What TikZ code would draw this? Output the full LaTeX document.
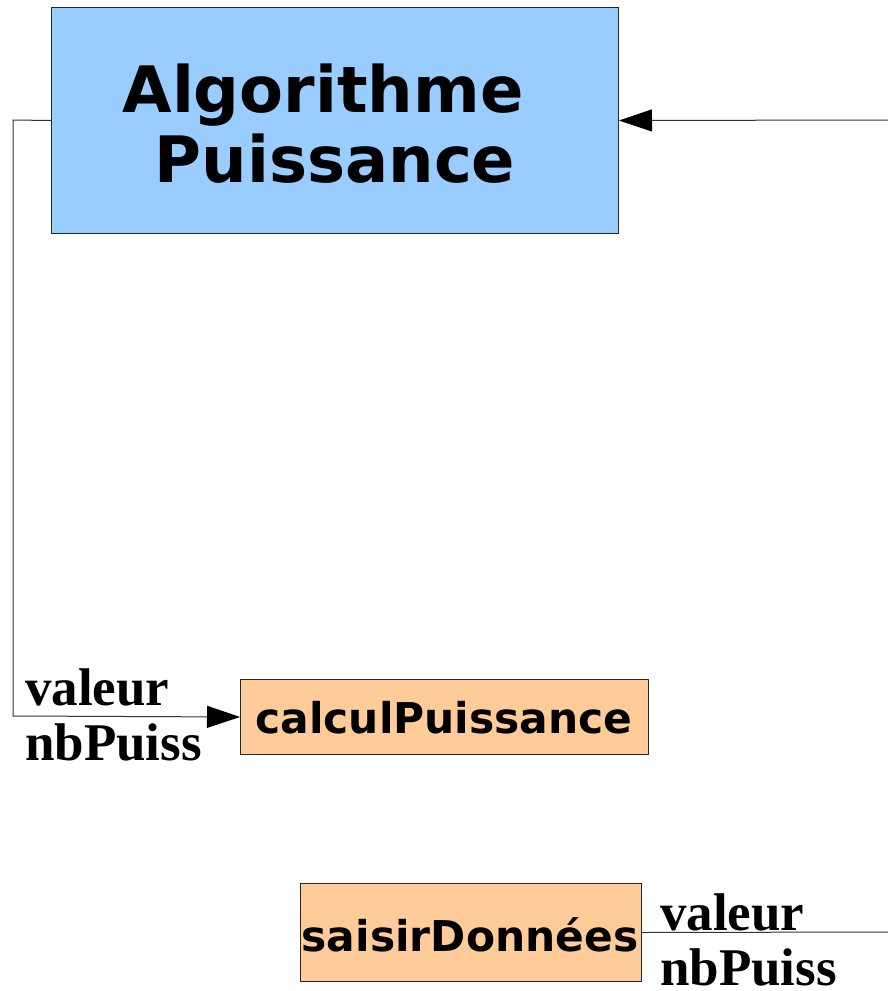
\documentclass[tikz,border=0pt]{standalone}
\usepackage{fontspec}
\usetikzlibrary{arrows.meta}
\newfontfamily\boxfont{DejaVu Sans}
\newfontfamily\labelfont{Liberation Serif}
\definecolor{mainblue}{HTML}{99CCFF}
\definecolor{suborange}{HTML}{FFCC99}
\definecolor{wire}{HTML}{333333}
\tikzset{
  mainbox/.style={draw=black!85, fill=mainblue, line width=1pt},
  subbox/.style={draw=black!85, fill=suborange, line width=1pt},
  wireline/.style={draw=wire, line width=1pt},
  flowtip/.style={-{Triangle[length=33pt,width=22pt,color=black]}},
  titletext/.style={anchor=base, inner sep=0pt, font=\boxfont\bfseries\fontsize{64}{70}\selectfont},
  boxtext/.style={inner sep=0pt, font=\boxfont\bfseries\fontsize{42.4}{44}\selectfont},
  paramtext/.style={anchor=base west, inner sep=0pt, font=\labelfont\bfseries\fontsize{53}{55}\selectfont},
}
\begin{document}
\begin{tikzpicture}[x=1pt,y=-1pt]
  \useasboundingbox (0,0) rectangle (888,991);
  % boxes
  \node[mainbox, minimum width=567pt, minimum height=226pt, anchor=north west, inner sep=0pt] (algo) at (51,7) {};
  \node[titletext] (algoline1) at (323,112) {Algorithme};
  \node[titletext] (algoline2) at (335,182) {Puissance};
  \node[subbox, minimum width=408pt, minimum height=75pt, anchor=north west, inner sep=0pt] (calc) at (240,679) {};
  \node[boxtext] (calctext) at (444,718) {calculPuissance};
  \node[subbox, minimum width=341pt, minimum height=98pt, anchor=north west, inner sep=0pt] (saisir) at (300,883) {};
  \node[boxtext] (saisirtext) at (470,935) {saisirDonnées};
  % free ends at the page edge
  \coordinate (inR) at (888,120);
  \coordinate (outR) at (888,932);
  \coordinate (bendA) at (13,120);
  \coordinate (bendB) at (13,716);
  % connectors
  \draw[wireline, flowtip] (inR) -- (algo.east);
  \draw[wireline, flowtip] (algo.west) -- (bendA) -- (bendB) -- (calc.west);
  \draw[wireline] (saisir.east) -- (outR);
  % parameter labels
  \node[paramtext] (v1) at (25,705) {valeur};
  \node[paramtext] (n1) at (25,760) {nbPuiss};
  \node[paramtext] (v2) at (660,930) {valeur};
  \node[paramtext] (n2) at (660,985) {nbPuiss};
\end{tikzpicture}
\end{document}
